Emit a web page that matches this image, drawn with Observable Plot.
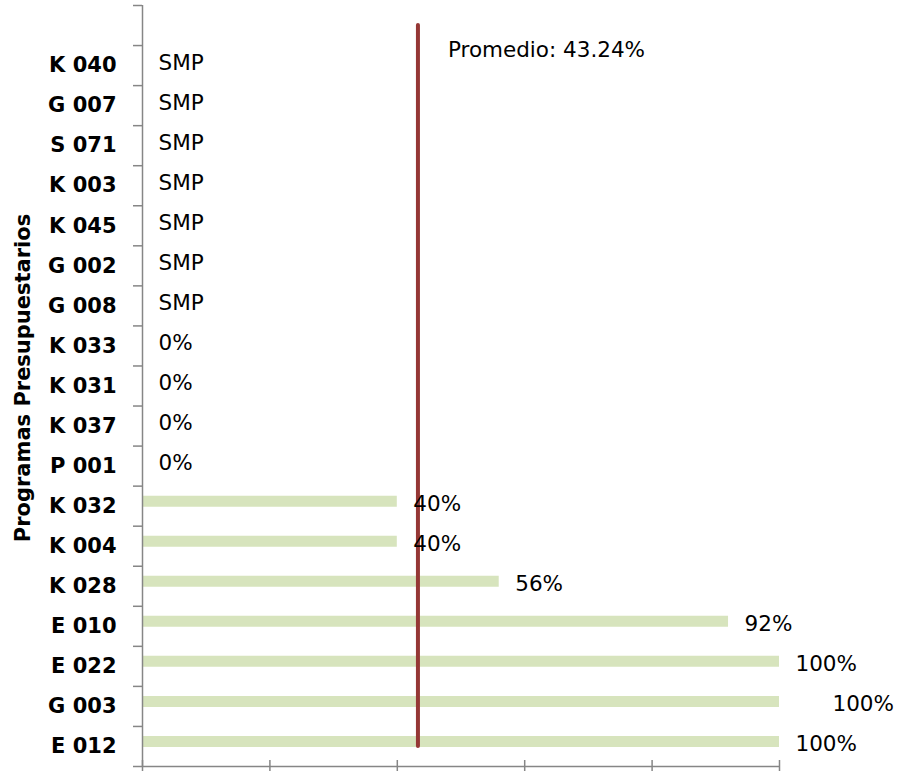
<!DOCTYPE html>
<html>
<head>
<meta charset="utf-8">
<script src="https://cdn.jsdelivr.net/npm/d3@7"></script>
<script src="https://cdn.jsdelivr.net/npm/@observablehq/plot@0.6"></script>
<style>
  html, body { margin: 0; padding: 0; background: #fff; }
  #chart { width: 902px; height: 771px; }
</style>
</head>
<body>
<div id="chart"></div>
<script>
// Categories (top to bottom)
const programs = ["K 040","G 007","S 071","K 003","K 045","G 002","G 008","K 033","K 031","K 037","P 001","K 032","K 004","K 028","E 010","E 022","G 003","E 012"];
// Values (null = SMP, sin meta programada)
const values = [null,null,null,null,null,null,null,0,0,0,0,0.40,0.40,0.56,0.92,1,1,1];
const average = 0.4324;
const averageLabel = "Promedio: 43.24%";
const axisTitle = "Programas Presupuestarios";
const xTicks = [0, 0.2, 0.4, 0.6, 0.8, 1];

const data = programs.map((p, i) => ({i, program: p, value: values[i]}));
const boundaries = d3.range(-1.5, programs.length + 0.5, 1);
const gray = "#868686";
const pct = d3.format(".0%");

const chart = Plot.plot({
  width: 902,
  height: 771,
  marginLeft: 142,
  marginRight: 123,
  marginTop: 5,
  marginBottom: 5,
  style: {fontFamily: "'DejaVu Sans', sans-serif", background: "#fff", color: "#000"},
  x: {domain: [0, 1], label: null},
  y: {type: "linear", domain: [-1.5, programs.length - 0.5], reverse: true, label: null},
  marks: [
    // bars
    Plot.ruleY(data.filter(d => d.value != null && d.value > 0), {
      y: "i", x1: 0, x2: "value", stroke: "#d7e4bd", strokeWidth: 11, dy: -5
    }),
    // axis lines
    Plot.ruleX([0], {y1: -1.5, y2: programs.length - 0.5, stroke: gray, strokeWidth: 1.5}),
    Plot.ruleY([programs.length - 0.5], {x1: 0, x2: 1, stroke: gray, strokeWidth: 1.5}),
    // y boundary ticks
    Plot.axisY({ticks: boundaries, tickSize: 9, tickFormat: () => "", label: null, stroke: gray, strokeWidth: 1.5}),
    // y category labels
    Plot.axisY({ticks: d3.range(programs.length), tickSize: 0, tickPadding: 26, label: null,
      tickFormat: i => programs[i], fontSize: 21, fontWeight: "bold", fill: "#000"}),
    // x ticks
    Plot.axisX({ticks: xTicks, tickSize: 11, dy: -6, tickFormat: () => "", label: null, stroke: gray, strokeWidth: 1.5}),
    // average line
    Plot.ruleX([average], {y1: -1, y2: programs.length - 1, stroke: "#953735", strokeWidth: 4, strokeLinecap: "round"}),
    Plot.text([average], {x: d => d, y: -0.5, text: () => averageLabel, textAnchor: "start",
      dx: 30, dy: 5, fontSize: 21.5, fill: "#000"}),
    // value labels
    Plot.text(data.filter(d => d.program !== "G 003"), {
      x: d => d.value ?? 0, y: "i", text: d => d.value == null ? "SMP" : pct(d.value),
      textAnchor: "start", dx: 16, dy: -2.5, fontSize: 21.5, fill: "#000"
    }),
    Plot.text(data.filter(d => d.program === "G 003"), {
      x: "value", y: "i", text: d => pct(d.value),
      textAnchor: "start", dx: 53, dy: -2.5, fontSize: 21.5, fill: "#000"
    }),
    // axis title
    Plot.text([axisTitle], {frameAnchor: "left", text: d => d, rotate: -90, textAnchor: "middle",
      dx: -119, dy: -8, fontSize: 21, fontWeight: "bold", fill: "#000"})
  ]
});
document.getElementById("chart").appendChild(chart);
</script>
</body>
</html>
